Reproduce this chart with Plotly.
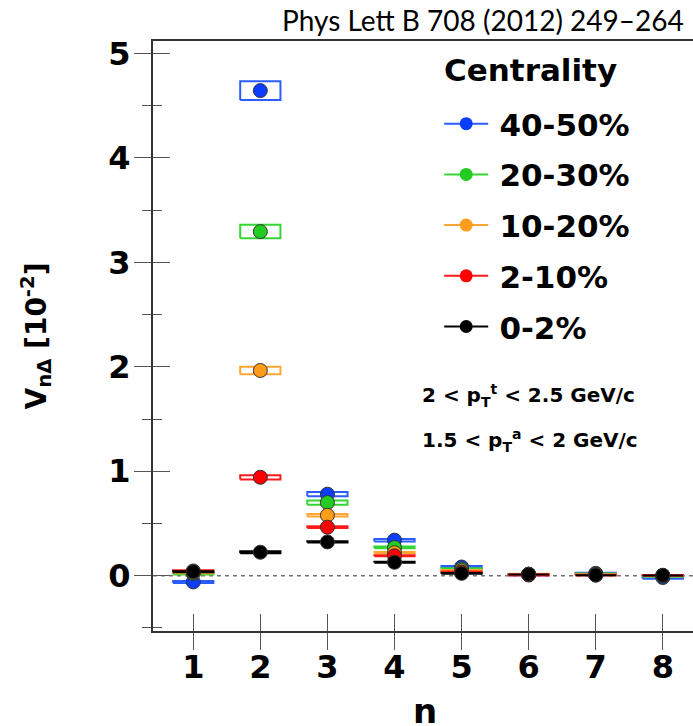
import plotly.graph_objects as go

# Harmonic number
n = [1, 2, 3, 4, 5, 6, 7, 8]

# V_nΔ values [10^-2] per centrality class
v_40_50 = [-0.06, 4.645, 0.78, 0.34, 0.083, 0.010, 0.022, -0.018]
v_20_30 = [0.020, 3.295, 0.70, 0.27, 0.063, 0.012, 0.015, -0.005]
v_10_20 = [0.030, 1.965, 0.578, 0.22, 0.048, 0.015, 0.010, 0.000]
v_2_10 = [0.045, 0.942, 0.464, 0.19, 0.035, 0.006, 0.005, 0.002]
v_0_2 = [0.038, 0.224, 0.323, 0.128, 0.022, 0.013, 0.006, 0.004]

# Systematic uncertainties (half heights of the boxes)
s_40_50 = [0.010, 0.090, 0.020, 0.012, 0.010, 0.006, 0.006, 0.012]
s_20_30 = [0.008, 0.065, 0.020, 0.008, 0.008, 0.005, 0.005, 0.006]
s_10_20 = [0.006, 0.036, 0.012, 0.006, 0.006, 0.004, 0.004, 0.004]
s_2_10 = [0.006, 0.020, 0.008, 0.005, 0.005, 0.004, 0.004, 0.004]
s_0_2 = [0.005, 0.010, 0.006, 0.004, 0.004, 0.003, 0.003, 0.003]

labels = ["40-50%", "20-30%", "10-20%", "2-10%", "0-2%"]
values = [v_40_50, v_20_30, v_10_20, v_2_10, v_0_2]
sys_err = [s_40_50, s_20_30, s_10_20, s_2_10, s_0_2]
colors = ["#0a3dff", "#22cc22", "#ff9c1a", "#ff0000", "#000000"]
box_colors = ["#2a5cff", "#33d633", "#ffa533", "#ff1a1a", "#000000"]

BOX_HALF_WIDTH = 0.3
FONT = "DejaVu Sans"

fig = go.Figure()


def box_path(xs, ys, es, hw):
    px, py = [], []
    for x, y, e in zip(xs, ys, es):
        px += [x - hw, x + hw, x + hw, x - hw, x - hw, None]
        py += [y - e, y - e, y + e, y + e, y - e, None]
    return px, py


for lab, v, s, c, bc in zip(labels, values, sys_err, colors, box_colors):
    bx, by = box_path(n, v, s, BOX_HALF_WIDTH)
    fig.add_trace(go.Scatter(x=bx, y=by, mode="lines", line=dict(color=bc, width=2),
                             showlegend=False, hoverinfo="skip"))
    fig.add_trace(go.Scatter(x=n, y=v, mode="markers",
                             marker=dict(color=c, size=14, line=dict(color="#333333", width=1)),
                             showlegend=False, name=lab))
    # legend entry: line with a dot
    fig.add_trace(go.Scatter(x=[None], y=[None], mode="lines+markers", name="\u2009" + lab,
                             legendgroup=lab,
                             line=dict(color=bc, width=2),
                             marker=dict(color=c, size=13)))

# dashed reference line at zero
fig.add_hline(y=0, line=dict(color="#777777", width=1.5, dash="4px,4px"), layer="below")

# overlay axes carrying the inner halves of the ticks
fig.add_trace(go.Scatter(x=[None], y=[None], xaxis="x2", yaxis="y2", showlegend=False))

XR = [0.4, 8.45]
YR = [-0.53, 5.12]
tickfont = dict(family=FONT, size=32, color="black", weight="bold")

fig.update_layout(
    width=693, height=726,
    margin=dict(l=153, r=0, t=41, b=95, autoexpand=False),
    paper_bgcolor="white", plot_bgcolor="white",
    showlegend=True,
    legend=dict(
        x=0.53, y=0.905, xanchor="left", yanchor="top",
        bgcolor="rgba(0,0,0,0)", borderwidth=0,
        font=dict(family=FONT, size=31, color="black", weight="bold"),
        itemwidth=44, tracegroupgap=7.4, traceorder="grouped",
    ),
    xaxis=dict(
        range=XR, tickmode="array", tickvals=n, ticktext=[str(i) for i in n],
        ticks="outside", ticklen=17, tickwidth=1.3, tickcolor="#555555",
        showline=True, linecolor="#333333", linewidth=2, mirror=True,
        showgrid=False, zeroline=False, tickfont=tickfont, automargin=False,
        ticklabelstandoff=-10,
    ),
    yaxis=dict(
        range=YR, tickmode="array", tickvals=[0, 1, 2, 3, 4, 5],
        ticks="outside", ticklen=17, tickwidth=1.3, tickcolor="#555555",
        minor=dict(dtick=0.5, tick0=0, ticks="outside", ticklen=9, tickwidth=1.3, tickcolor="#555555"),
        showline=True, linecolor="#333333", linewidth=2,
        showgrid=False, zeroline=False, tickfont=tickfont, automargin=False,
        ticklabelstandoff=-3,
        title=dict(text="V<sub>nΔ</sub> [10<sup>-2</sup>]",
                   font=dict(family=FONT, size=28, color="black", weight="bold"), standoff=54),
    ),
    xaxis2=dict(
        range=XR, overlaying="x", anchor="y2", side="bottom", tickmode="array", tickvals=n,
        ticks="inside", ticklen=17, tickwidth=1.3, tickcolor="#555555",
        showticklabels=False, showline=False, showgrid=False, zeroline=False,
    ),
    yaxis2=dict(
        range=YR, overlaying="y", anchor="x2", side="left", tickmode="array", tickvals=[0, 1, 2, 3, 4, 5],
        ticks="inside", ticklen=17, tickwidth=1.3, tickcolor="#555555",
        minor=dict(dtick=0.5, tick0=0, ticks="inside", ticklen=9, tickwidth=1.3, tickcolor="#555555"),
        showticklabels=False, showline=False, showgrid=False, zeroline=False,
    ),
)

# x-axis title
fig.add_annotation(text="n", xref="paper", yref="paper",
                   x=(425 - 153) / 540, y=(631 - 711) / 590, xanchor="center", yanchor="middle",
                   showarrow=False, font=dict(family=FONT, size=34, color="black", weight="bold"))
# legend heading
fig.add_annotation(text="Centrality", xref="paper", yref="paper",
                   x=(442 - 153) / 540, y=(631 - 70) / 590, xanchor="left", yanchor="middle",
                   showarrow=False, font=dict(family=FONT, size=31, color="black", weight="bold"))
fig.add_annotation(text="Phys Lett B 708 (2012) 249–264", xref="paper", yref="paper",
                   x=0.987, y=1.0356, xanchor="right", yanchor="middle", showarrow=False,
                   font=dict(family="Lato", size=28, color="black"))
fig.add_annotation(text="2 < p<sub>T</sub><sup>t</sup> < 2.5 GeV/c", xref="paper", yref="paper",
                   x=0.494, y=0.400, xanchor="left", yanchor="middle", showarrow=False,
                   font=dict(family=FONT, size=20, color="black", weight="bold"))
fig.add_annotation(text="1.5 < p<sub>T</sub><sup>a</sup> < 2 GeV/c", xref="paper", yref="paper",
                   x=0.494, y=0.3223, xanchor="left", yanchor="middle", showarrow=False,
                   font=dict(family=FONT, size=20, color="black", weight="bold"))

fig.write_html("out.html")
